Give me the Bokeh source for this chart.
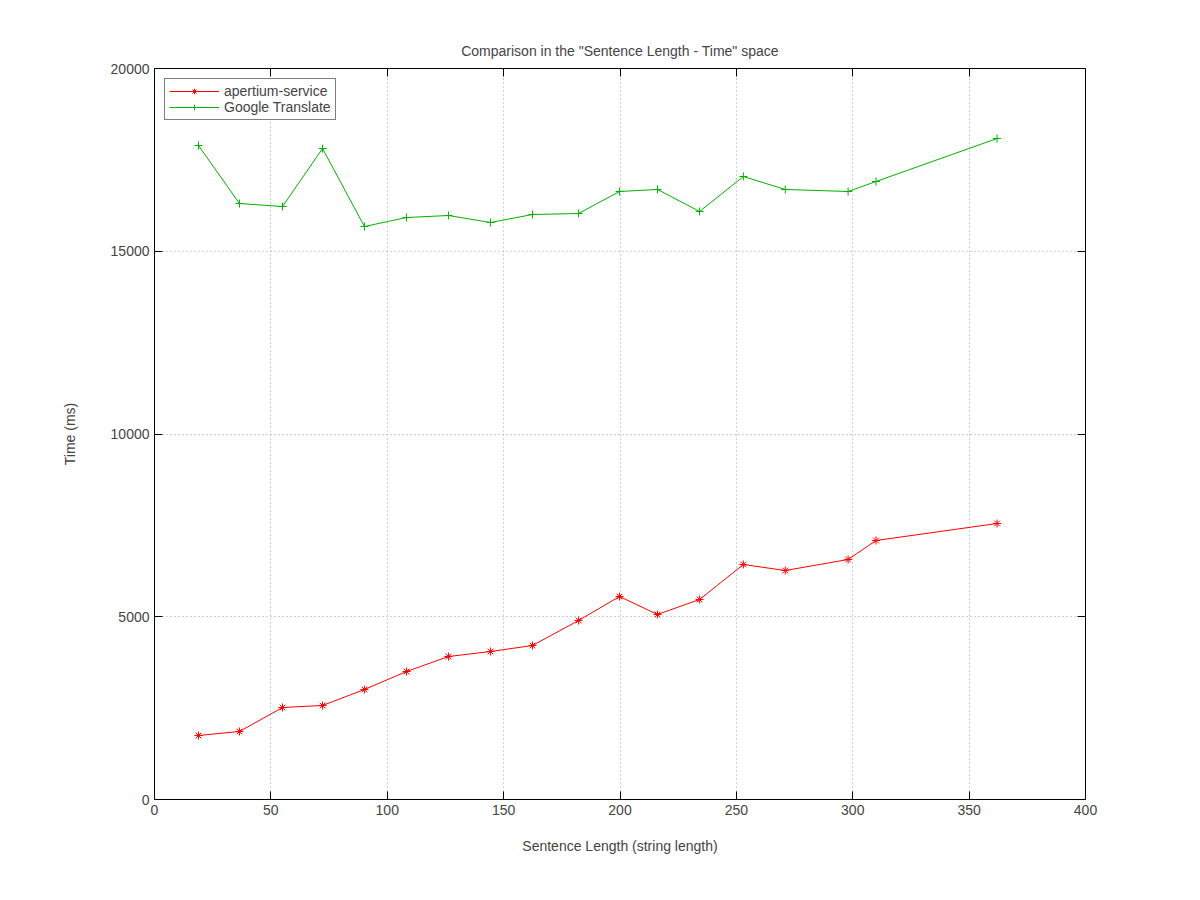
from bokeh.plotting import figure
from bokeh.models import LinearAxis, Range1d, FixedTicker, Legend, LegendItem
from bokeh.embed import file_html
from bokeh.resources import INLINE

x_vals = [18.9, 36.5, 55, 72.2, 90.2, 108.3, 126.3, 144.4, 162.4, 182.2, 199.8, 216.1, 234.2, 253, 271, 298, 310, 362]
apertium = [1751, 1860, 2517, 2572, 3010, 3502, 3912, 4049, 4213, 4897, 5554, 5062, 5472, 6430, 6265, 6566, 7086, 7551]
google = [17893, 16306, 16224, 17811, 15677, 15923, 15978, 15787, 16005, 16033, 16635, 16690, 16088, 17045, 16690, 16635, 16908, 18085]
xticks = [0, 50, 100, 150, 200, 250, 300, 350, 400]
yticks = [0, 5000, 10000, 15000, 20000]

FONT = "Liberation Sans"
p = figure(width=1184, height=884, output_backend="svg", toolbar_location=None,
           x_range=Range1d(0, 400), y_range=Range1d(0, 20000),
           min_border_left=154, min_border_right=99, min_border_top=68, min_border_bottom=85,
           title='Comparison in the "Sentence Length - Time" space')
p.title.align = "center"
p.title.text_font = FONT
p.title.text_font_style = "normal"
p.title.text_font_size = "10.5pt"
p.title.standoff = 20
p.outline_line_color = "black"
p.outline_line_width = 1

for ax in (p.xaxis[0], p.yaxis[0]):
    ax.axis_line_color = None
    ax.major_tick_in = 8
    ax.major_tick_out = 0
    ax.minor_tick_line_color = None
    ax.major_label_text_font = FONT
    ax.major_label_text_font_size = "10.5pt"
    ax.axis_label_text_font = FONT
    ax.axis_label_text_font_size = "10.5pt"
    ax.axis_label_text_font_style = "normal"
p.xaxis[0].ticker = FixedTicker(ticks=xticks)
p.yaxis[0].ticker = FixedTicker(ticks=yticks)
p.xaxis[0].axis_label = "Sentence Length (string length)"
p.yaxis[0].axis_label = "Time (ms)"
p.xaxis[0].axis_label_standoff = 20
p.yaxis[0].axis_label_standoff = 30

for loc, ticks in (("above", xticks), ("right", yticks)):
    ax = LinearAxis(ticker=FixedTicker(ticks=ticks),
                    major_label_overrides={t: "" for t in ticks},
                    axis_line_color=None, major_tick_in=8, major_tick_out=0,
                    minor_tick_line_color=None)
    p.add_layout(ax, loc)

p.xgrid.ticker = FixedTicker(ticks=xticks)
p.ygrid.ticker = FixedTicker(ticks=yticks)
for g in (p.xgrid[0], p.ygrid[0]):
    g.grid_line_color = "#a0a0a0"
    g.grid_line_dash = "1 3"

r1 = p.line(x_vals, apertium, line_color="red", line_width=1)
m1 = p.scatter(x_vals, apertium, marker="asterisk", size=8, line_color="red")
r2 = p.line(x_vals, google, line_color="#00b000", line_width=1)
m2 = p.scatter(x_vals, google, marker="cross", size=8, line_color="#00b000")

legend = Legend(items=[LegendItem(label="apertium-service", renderers=[r1, m1]),
                       LegendItem(label="Google Translate", renderers=[r2, m2])],
                location="top_left", label_text_font=FONT, label_text_font_size="10.5pt",
                border_line_color="black", background_fill_alpha=1,
                glyph_width=50, spacing=0, padding=4, margin=10, label_height=14, glyph_height=14)
p.add_layout(legend)

open("out.html", "w").write(file_html(p, INLINE))
